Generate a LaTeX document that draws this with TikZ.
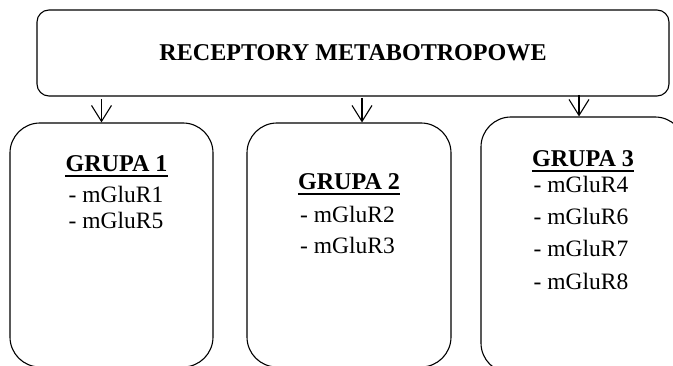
\documentclass[tikz,border=0pt]{standalone}
\usepackage{fontspec}
\setmainfont{Liberation Serif}
\usetikzlibrary{arrows.meta}
\tikzset{
  box/.style={draw, line width=1.1pt, rounded corners=30pt, inner sep=0pt},
  txt/.style={inner sep=0pt, font=\fontsize{23.5}{28}\selectfont},
  head/.style={txt, font=\fontsize{24.1}{28}\selectfont\bfseries},
  conn/.style={line width=1.1pt, -{Straight Barb[length=16pt,width=20pt,line width=1.1pt]}},
  uline/.style={line width=2pt}
}
\begin{document}
\begin{tikzpicture}[x=1pt,y=-1pt]
\useasboundingbox (0,0) rectangle (673,366);
\clip (0,0) rectangle (673,366);
% top box
\node[draw, line width=1.1pt, rounded corners=12pt, minimum width=632pt, minimum height=86pt] (top) at (353,53) {};
\node[head, anchor=base] (title) at (353,61) {RECEPTORY METABOTROPOWE};
% group boxes
\node[box, minimum width=203pt, minimum height=244pt] (b1) at (111.5,245) {};
\node[box, minimum width=204pt, minimum height=244pt] (b2) at (349,245) {};
\node[box, minimum width=204pt, minimum height=256pt] (b3) at (583,245) {};
% arrows
\coordinate (a1) at (101.5,99);
\coordinate (a2) at (362,98);
\coordinate (a3) at (579,95);
\draw[conn] (a1) -- (a1 |- b1.north);
\draw[conn] (a2) -- (a2 |- b2.north);
\draw[conn] (a3) -- (a3 |- b3.north);
% group 1
\node[head, anchor=base] (g1) at (116.5,172) {GRUPA 1};
\draw[uline] ([yshift=-4pt]g1.base west) -- ([yshift=-4pt]g1.base east);
\node[txt, anchor=base] (r1) at (116,203) {- mGluR1};
\node[txt, anchor=base] (r5) at (116,229) {- mGluR5};
% group 2
\node[head, anchor=base] (g2) at (349,190) {GRUPA 2};
\draw[uline] ([yshift=-4pt]g2.base west) -- ([yshift=-4pt]g2.base east);
\node[txt, anchor=base] (r2) at (347.5,223) {- mGluR2};
\node[txt, anchor=base] (r3) at (347.5,254) {- mGluR3};
% group 3
\node[head, anchor=base] (g3) at (583,167) {GRUPA 3};
\draw[uline] ([yshift=-4pt]g3.base west) -- ([yshift=-4pt]g3.base east);
\node[txt, anchor=base] (r4) at (581,193) {- mGluR4};
\node[txt, anchor=base] (r6) at (581,225) {- mGluR6};
\node[txt, anchor=base] (r7) at (581,257) {- mGluR7};
\node[txt, anchor=base] (r8) at (581,290) {- mGluR8};
\end{tikzpicture}
\end{document}
